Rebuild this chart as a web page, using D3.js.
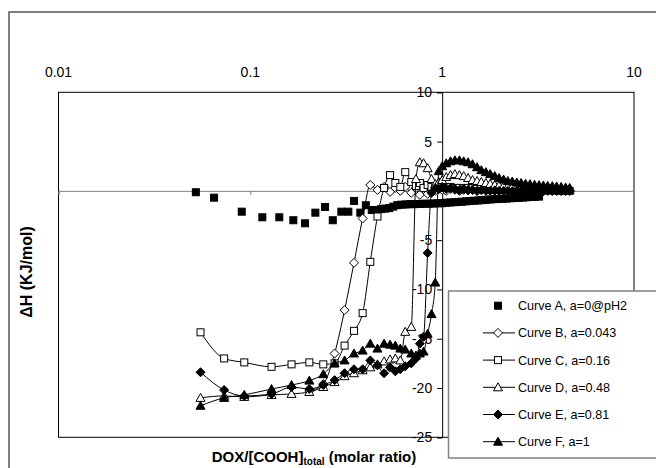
<!DOCTYPE html>
<html><head><meta charset="utf-8">
<script src="https://cdn.jsdelivr.net/npm/d3@7"></script>
<style>body{margin:0;background:#fff}svg{display:block}text{font-family:Arial,"Liberation Sans",sans-serif}</style>
</head><body>
<svg id="c" width="656" height="468"></svg>
<script>
const xTicks=[0.01,0.1,1,10];
const yTicks=[10,5,0,-5,-10,-15,-20,-25];
const seriesNames=["Curve A, a=0@pH2","Curve B, a=0.043","Curve C, a=0.16","Curve D, a=0.48","Curve E, a=0.81","Curve F, a=1"];

const xA=[0.052,0.0647,0.0902,0.1155,0.1416,0.1676,0.1928,0.2183,0.2452,0.269,0.2982,0.3243,0.3472,0.3745,0.40,0.4295,0.456,
0.48,0.505,0.53,0.556,0.584,0.613,0.644,0.676,0.71,0.745,0.78,0.82,0.86,0.905,0.95,1.0,1.05,1.1,1.155,1.21,1.27,1.335,1.4,1.47,1.545,1.62,1.7,1.785,1.875,1.97,2.07,2.17,2.28,2.39,2.51,2.64,2.77,2.91,3.05,3.2];
const yA=[-0.14,-0.69,-2.11,-2.68,-2.68,-2.98,-3.29,-2.21,-1.63,-2.98,-2.11,-2.11,-1.02,-2.21,-1.46,-1.94,-1.94,
-1.85,-1.8,-1.75,-1.6,-1.45,-1.4,-1.38,-1.35,-1.35,-1.33,-1.32,-1.3,-1.3,-1.28,-1.26,-1.25,-1.2,-1.18,-1.15,-1.12,-1.1,-1.06,-1.03,-1.0,-0.97,-0.94,-0.9,-0.87,-0.84,-0.82,-0.8,-0.78,-0.75,-0.72,-0.7,-0.68,-0.65,-0.62,-0.6,-0.58];

const xGrid=[0.055,0.073,0.093,0.129,0.164,0.203,0.240,0.275,0.310,0.347,0.385,0.422,0.460,0.498,0.535,0.570,0.605,0.642,0.690,0.730,0.765,0.800,0.840,0.880,0.920,0.960,
1.00,1.05,1.105,1.165,1.23,1.295,1.365,1.44,1.52,1.60,1.69,1.78,1.88,1.98,2.09,2.20,2.32,2.45,2.58,2.72,2.87,3.03,3.20,3.37,3.55,3.75,3.95,4.17,4.40,4.62];

const yB=[null,null,null,null,null,-20.3,-19.6,-16.5,-12.1,-7.3,-2.8,0.6,0.1,0.4,-0.1,0.3,0.0,0.4,-0.2,0.3,-0.4,0.2,-0.3,0.1,0.0,0.2,
0.1,0.0,0.2,0.1,0.0,0.1,0.05,0.1,0.0,0.1,0.05,0.1,0.0,0.05,0.1,0.0,0.05,0.0,0.05,0.0,0.0,0.05,0.0,0.0,0.05,0.0,0.0,0.0,0.0,0.0];
const yC=[-14.35,-17.0,-17.4,-17.85,-17.6,-17.4,-17.6,-17.5,-15.7,-14.2,-12.4,-7.2,-2.6,0.3,1.6,0.8,0.4,1.9,0.9,0.5,0.8,0.3,0.6,0.4,0.5,0.3,
0.4,0.3,0.4,0.3,0.3,0.25,0.3,0.25,0.2,0.25,0.2,0.2,0.15,0.2,0.15,0.15,0.1,0.15,0.1,0.1,0.1,0.1,0.05,0.1,0.05,0.05,0.05,0.0,0.05,0.0];
const yD=[-21.0,-20.8,-20.9,-20.7,-20.6,-20.4,-19.9,-19.4,-18.8,-18.5,-18.2,-17.9,-17.6,-17.3,-17.1,-17.0,-17.2,-14.3,-13.8,1.2,2.9,2.8,2.3,1.2,0.7,0.9,
1.1,1.4,1.6,1.7,1.6,1.5,1.3,1.1,1.0,0.9,0.8,0.7,0.6,0.55,0.5,0.45,0.4,0.4,0.35,0.3,0.3,0.25,0.25,0.2,0.2,0.15,0.15,0.1,0.1,0.1];
const yE=[-18.4,-20.2,-20.8,-20.6,-19.9,-20.1,-19.7,-19.2,-18.5,-18.1,-18.1,-17.2,-17.7,-18.5,-17.9,-18.3,-18.1,-17.8,-17.5,-17.0,-15.5,-14.8,-6.3,-0.2,0.3,0.2,
0.4,0.2,0.3,0.2,0.1,0.2,0.1,0.1,0.0,0.1,0.0,0.0,0.05,0.0,0.0,0.0,-0.05,0.0,0.0,-0.05,0.0,0.0,0.0,-0.05,0.0,0.0,0.0,0.0,0.0,0.0];
const yF=[-21.8,-21.0,-20.7,-20.1,-19.7,-19.25,-18.6,-17.5,-17.2,-16.5,-16.2,-15.5,-16.0,-15.5,-15.6,-15.7,-16.0,-16.1,-16.5,-16.7,-16.5,-16.3,-14.5,-12.5,-9.3,2.0,
2.5,2.8,3.0,3.1,3.1,3.0,2.9,2.7,2.4,2.1,1.9,1.7,1.5,1.3,1.15,1.0,0.95,0.85,0.8,0.72,0.68,0.62,0.58,0.55,0.5,0.48,0.45,0.4,0.35,0.3];

const svg=d3.select("#c");
const L=58.5,R=634,T=92.3,B=437.3;
const x=d3.scaleLog().domain([0.01,10]).range([L,R]);
const y=d3.scaleLinear().domain([-25,10]).range([B,T]);

// outer chart border
svg.append("rect").attr("x",9).attr("y",12).attr("width",720).attr("height",520)
  .attr("fill","none").attr("stroke","#555").attr("stroke-width",1.5);

// plot box
svg.append("rect").attr("x",L).attr("y",T).attr("width",R-L).attr("height",B-T)
  .attr("fill","none").attr("stroke","#000").attr("stroke-width",1);

// x axis at y=0 (gray) with ticks
const gx=svg.append("g").attr("transform",`translate(0,${y(0)})`)
  .call(d3.axisBottom(x).tickValues(xTicks).tickSize(4).tickFormat(""));
gx.select(".domain").attr("stroke","#808080");
gx.selectAll(".tick line").attr("stroke","#808080");

// top x labels
svg.append("g").selectAll("text").data(xTicks).join("text")
  .attr("x",d=>x(d)).attr("y",77).attr("text-anchor","middle")
  .attr("font-size",14).text(d=>String(d));

// y axis at x=1
const gy=svg.append("g").attr("transform",`translate(${x(1)},0)`)
  .call(d3.axisLeft(y).tickValues(yTicks).tickSize(5).tickPadding(5).tickFormat(d=>String(d)));
gy.selectAll("text").attr("font-size",14).attr("font-family","Arial, 'Liberation Sans', sans-serif").attr("fill","#000");
gy.select(".domain").attr("stroke","#000");

// axis titles
const xt=svg.append("text").attr("x",314).attr("y",462).attr("text-anchor","middle")
  .attr("font-size",15).attr("font-weight","bold");
xt.append("tspan").text("DOX/[COOH]");
xt.append("tspan").attr("font-size",10).attr("dy",3).text("total");
xt.append("tspan").attr("dy",-3).text(" (molar ratio)");
svg.append("text").attr("transform","translate(32,272) rotate(-90)").attr("text-anchor","middle")
  .attr("font-size",16).attr("font-weight","bold").text("\u0394H (KJ/mol)");

// markers
function marker(g,type,cx,cy){
  if(type==="sqF"||type==="sqO"){
    g.append("rect").attr("x",cx-3.5).attr("y",cy-3.5).attr("width",7).attr("height",7)
      .attr("fill",type==="sqF"?"#000":"#fff").attr("stroke","#000").attr("stroke-width",1);
  } else if(type==="diaF"||type==="diaO"){
    g.append("path").attr("d",`M${cx},${cy-4.5}L${cx+4.5},${cy}L${cx},${cy+4.5}L${cx-4.5},${cy}Z`)
      .attr("fill",type==="diaF"?"#000":"#fff").attr("stroke","#000").attr("stroke-width",1);
  } else {
    g.append("path").attr("d",`M${cx},${cy-4.5}L${cx+4.5},${cy+3.5}L${cx-4.5},${cy+3.5}Z`)
      .attr("fill",type==="triF"?"#000":"#fff").attr("stroke","#000").attr("stroke-width",1);
  }
}

const series=[
  {xs:xA,ys:yA,m:"sqF",line:false},
  {xs:xGrid,ys:yB,m:"diaO",line:true},
  {xs:xGrid,ys:yC,m:"sqO",line:true},
  {xs:xGrid,ys:yD,m:"triO",line:true},
  {xs:xGrid,ys:yE,m:"diaF",line:true},
  {xs:xGrid,ys:yF,m:"triF",line:true}
];
const lineGen=d3.line().x(d=>x(d[0])).y(d=>y(d[1])).curve(d3.curveMonotoneX);
series.forEach(s=>{
  const pts=s.xs.map((v,i)=>[v,s.ys[i]]).filter(p=>p[1]!==null);
  const g=svg.append("g");
  if(s.line) g.append("path").attr("d",lineGen(pts)).attr("fill","none").attr("stroke","#000").attr("stroke-width",1);
  pts.forEach(p=>marker(g,s.m,x(p[0]),y(p[1])));
});

// legend
const lg=svg.append("g");
lg.append("rect").attr("x",448.5).attr("y",291).attr("width",230).attr("height",167)
  .attr("fill","#fff").attr("stroke","#808080").attr("stroke-width",1.5);
seriesNames.forEach((n,i)=>{
  const cy=305.7+27.2*i;
  const g=lg.append("g");
  if(series[i].line) g.append("line").attr("x1",483).attr("x2",515).attr("y1",cy).attr("y2",cy).attr("stroke","#000");
  marker(g,series[i].m,498,cy);
  g.append("text").attr("x",518).attr("y",cy).attr("dy","0.35em").attr("font-size",12.6).text(n);
});
</script>
</body></html>
